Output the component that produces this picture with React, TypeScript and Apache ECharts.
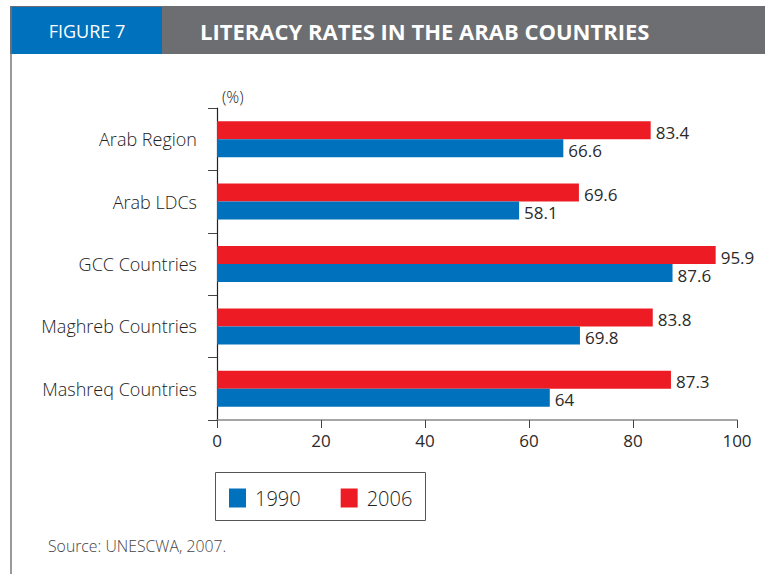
import React, { useEffect, useRef } from "react";
import * as echarts from "echarts";

const categories = ["Arab Region", "Arab LDCs", "GCC Countries", "Maghreb Countries", "Mashreq Countries"];
const values1990 = [66.6, 58.1, 87.6, 69.8, 64];
const values2006 = [83.4, 69.6, 95.9, 83.8, 87.3];
const seriesNames = ["1990", "2006"];
const xTicks = { min: 0, max: 100, interval: 20 };

const BLUE = "#0071BC";
const RED = "#ED1C24";
const GREY = "#6D6E71";
const TEXT = "#222222";
const FONT = "'Open Sans', Lato, sans-serif";

export default function App() {
  const ref = useRef<HTMLDivElement>(null);
  useEffect(() => {
    document.body.style.margin = "0";
    const chart = echarts.init(ref.current!, null, { renderer: "svg" });
    const cats = [...categories].reverse();
    const v1990 = [...values1990].reverse();
    const v2006 = [...values2006].reverse();
    const label = {
      show: true,
      position: "right",
      distance: 5,
      offset: [0, 2],
      fontSize: 17,
      fontWeight: 400,
      color: "#2a2a2a",
      fontFamily: FONT,
    };
    chart.setOption({
      animation: false,
      textStyle: { fontFamily: FONT },
      grid: { left: 217, top: 108, right: 28, bottom: 154 },
      xAxis: {
        type: "value",
        min: xTicks.min,
        max: xTicks.max,
        interval: xTicks.interval,
        axisLine: { show: true, lineStyle: { color: "#888", width: 1.5 } },
        axisTick: { show: true, length: 8, lineStyle: { color: "#444" } },
        axisLabel: { fontSize: 17, fontWeight: 400, color: "#2a2a2a", margin: 12, fontFamily: FONT },
        splitLine: { show: false },
      },
      yAxis: {
        type: "category",
        data: cats,
        axisLine: { show: true, lineStyle: { color: "#222", width: 1.2 } },
        axisTick: { show: true, length: 9, lineStyle: { color: "#444" } },
        axisLabel: {
          fontSize: 18,
          fontWeight: 300,
          color: TEXT,
          margin: 20,
          fontFamily: FONT,
          padding: [0, 0, 7, 0],
        },
      },
      legend: {
        left: 229,
        top: 488,
        itemWidth: 17,
        itemHeight: 19,
        itemGap: 40,
        icon: "rect",
        padding: 0,
        data: seriesNames,
        textStyle: { fontSize: 20, fontWeight: 300, color: TEXT, fontFamily: FONT, padding: [0, 0, 0, 4] },
      },
      graphic: [
        { type: "rect", shape: { x: 10, y: 6, width: 755, height: 48 }, style: { fill: GREY } },
        { type: "rect", shape: { x: 12, y: 7, width: 150, height: 47 }, style: { fill: BLUE } },
        { type: "rect", shape: { x: 10, y: 54, width: 2, height: 520 }, style: { fill: "#999" } },
        {
          type: "text",
          x: 87,
          y: 31,
          style: { text: "FIGURE 7", fill: "#fff", fontSize: 18, fontFamily: FONT, align: "center", verticalAlign: "middle" },
        },
        {
          type: "text",
          x: 200,
          y: 31,
          style: {
            text: "LITERACY RATES IN THE ARAB COUNTRIES",
            fill: "#fff",
            fontSize: 22,
            fontWeight: "bold",
            fontFamily: FONT,
            align: "left",
            verticalAlign: "middle",
          },
        },
        {
          type: "text",
          x: 222,
          y: 97,
          style: { text: "(%)", fill: TEXT, fontSize: 16, fontWeight: 300, fontFamily: FONT, align: "left", verticalAlign: "middle" },
        },
        {
          type: "rect",
          shape: { x: 215.5, y: 472.5, width: 210, height: 48 },
          style: { fill: "none", stroke: "#555", lineWidth: 1 },
        },
        {
          type: "text",
          x: 48,
          y: 546,
          style: { text: "Source: UNESCWA, 2007.", fill: "#444", fontSize: 15.8, fontWeight: 300, fontFamily: FONT, align: "left", verticalAlign: "middle" },
        },
      ],
      series: [
        {
          name: seriesNames[1],
          type: "bar",
          data: v2006,
          barWidth: 18,
          barGap: "0%",
          itemStyle: { color: RED },
          label,
        },
        {
          name: seriesNames[0],
          type: "bar",
          data: v1990,
          barWidth: 18,
          barGap: "0%",
          itemStyle: { color: BLUE },
          label,
        },
      ],
    });
    return () => chart.dispose();
  }, []);
  return <div ref={ref} style={{ width: 765, height: 574 }} />;
}
